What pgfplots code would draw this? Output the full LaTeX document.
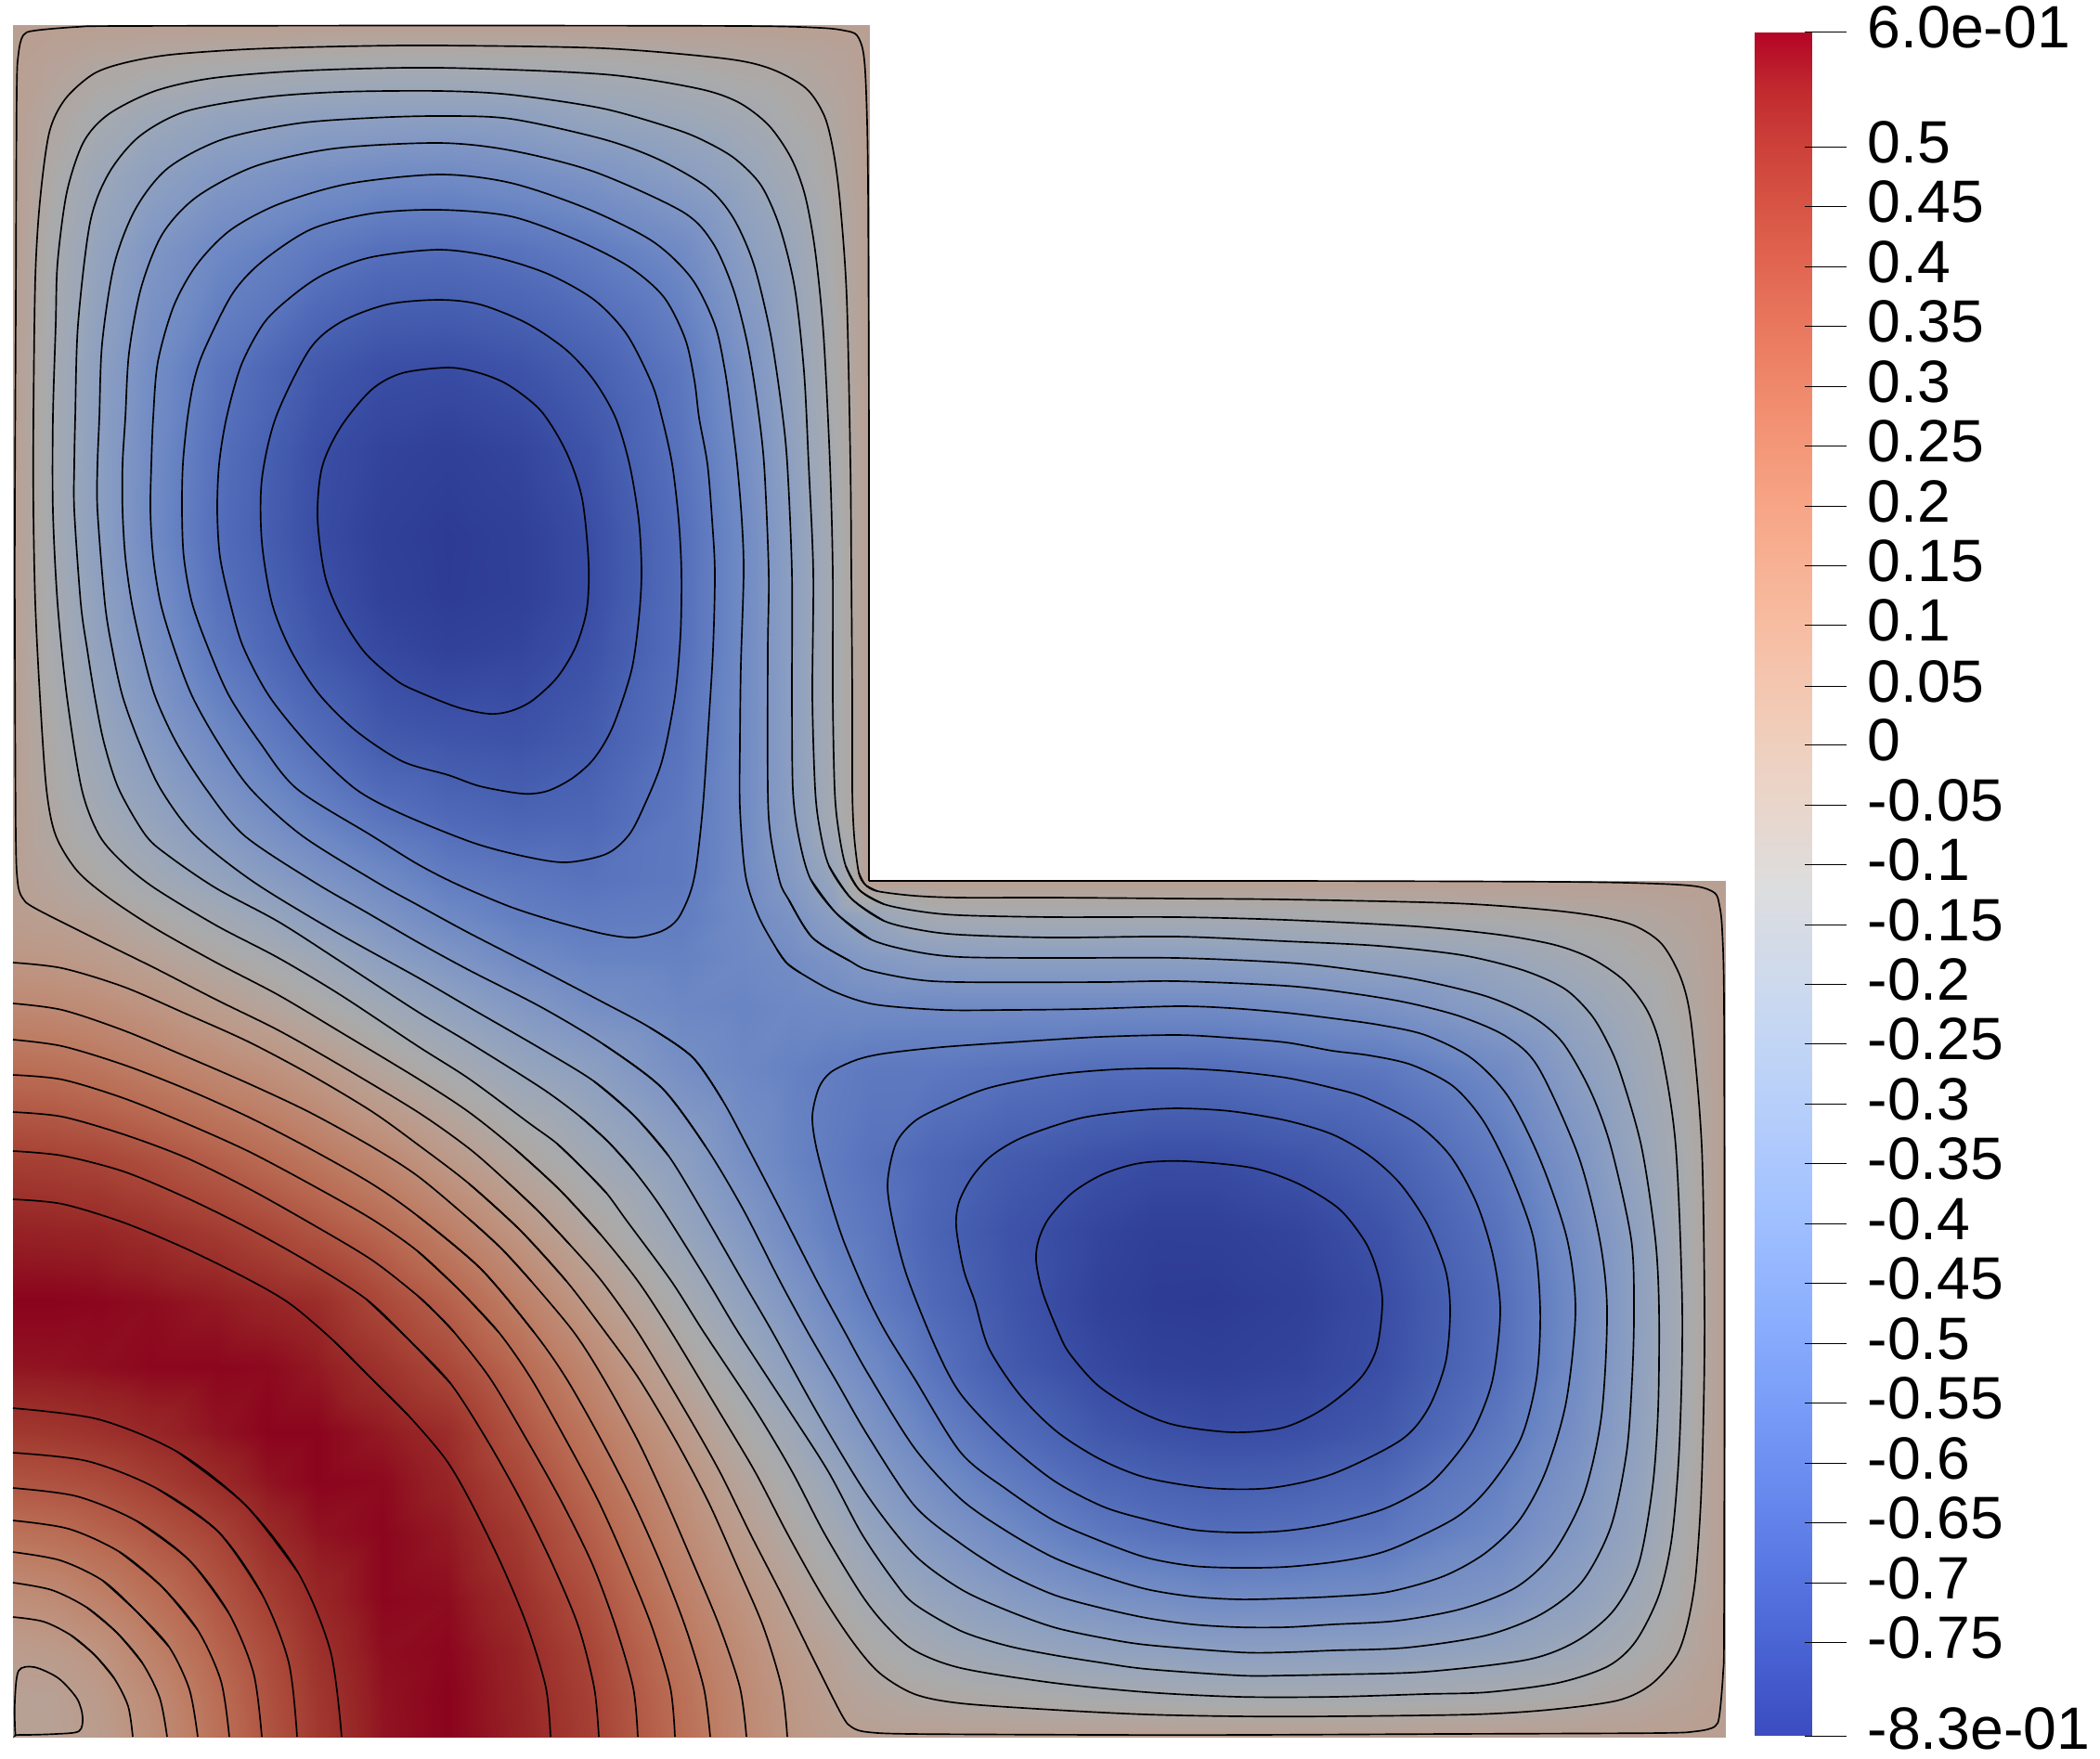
\documentclass[border=0pt]{standalone}
\usepackage{fontspec}
\setmainfont{Liberation Sans}
\usepackage{pgfplots}
\usepackage{pgfplotstable}
\pgfplotsset{compat=1.18}
\pgfplotsset{colormap={cwbar}{rgb255=(59,76,192) rgb255=(68,90,204) rgb255=(77,104,215) rgb255=(87,117,225) rgb255=(98,130,234) rgb255=(108,142,241) rgb255=(119,154,247) rgb255=(130,165,251) rgb255=(141,176,254) rgb255=(152,185,255) rgb255=(163,194,255) rgb255=(174,201,253) rgb255=(184,208,249) rgb255=(194,213,244) rgb255=(204,217,238) rgb255=(213,219,230) rgb255=(221,221,221) rgb255=(229,216,209) rgb255=(236,211,197) rgb255=(241,204,185) rgb255=(245,196,173) rgb255=(247,187,160) rgb255=(247,177,148) rgb255=(247,166,135) rgb255=(244,154,123) rgb255=(241,141,111) rgb255=(236,127,99) rgb255=(229,112,88) rgb255=(222,96,77) rgb255=(213,80,66) rgb255=(203,62,56) rgb255=(192,40,47) rgb255=(180,4,38)}}
\pgfplotsset{colormap={cwlit}{rgb255=(45,59,148) rgb255=(52,69,157) rgb255=(59,80,166) rgb255=(67,90,173) rgb255=(75,100,180) rgb255=(83,109,186) rgb255=(92,119,190) rgb255=(100,127,193) rgb255=(109,136,196) rgb255=(117,142,196) rgb255=(126,149,196) rgb255=(134,155,195) rgb255=(142,160,192) rgb255=(149,164,188) rgb255=(157,167,183) rgb255=(164,169,177) rgb255=(170,170,170) rgb255=(176,166,161) rgb255=(182,162,152) rgb255=(186,157,142) rgb255=(189,151,133) rgb255=(190,144,123) rgb255=(190,136,114) rgb255=(190,128,104) rgb255=(188,119,95) rgb255=(186,109,85) rgb255=(182,98,76) rgb255=(176,86,68) rgb255=(171,74,59) rgb255=(164,62,51) rgb255=(156,48,43) rgb255=(148,31,36) rgb255=(139,3,29)}}
% field, upper-left arm (the lower-right arm is its mirror image)
\pgfplotstableread[row sep=\\]{x y u\\
14 27 0\\57 27 0\\105 27 0\\162 27 0\\234 27 0\\342 27 0\\412 27 0\\483 27 0\\558 27 0\\634 27 0\\734 27 0\\801 27 0\\853 27 0\\897 27 0\\936 27 0\\
14 73 0\\57 73 -0.03\\105 73 -0.07\\162 73 -0.10\\234 73 -0.124\\342 73 -0.15\\412 73 -0.153\\483 73 -0.154\\558 73 -0.146\\634 73 -0.137\\734 73 -0.114\\801 73 -0.086\\853 73 -0.07\\897 73 -0.04\\936 73 0\\
14 125 0\\57 125 -0.07\\105 125 -0.138\\162 125 -0.20\\234 125 -0.255\\342 125 -0.29\\412 125 -0.298\\483 125 -0.303\\558 125 -0.295\\634 125 -0.25\\734 125 -0.209\\801 125 -0.168\\853 125 -0.114\\897 125 -0.068\\936 125 0\\
14 188 0\\57 188 -0.107\\105 188 -0.208\\162 188 -0.287\\234 188 -0.356\\342 188 -0.421\\412 188 -0.447\\483 188 -0.453\\558 188 -0.428\\634 188 -0.393\\734 188 -0.316\\801 188 -0.243\\853 188 -0.166\\897 188 -0.088\\936 188 0\\
14 269 0\\57 269 -0.134\\105 269 -0.254\\162 269 -0.372\\234 269 -0.463\\342 269 -0.55\\412 269 -0.595\\483 269 -0.603\\558 269 -0.579\\634 269 -0.536\\734 269 -0.453\\801 269 -0.315\\853 269 -0.2285\\897 269 -0.111\\936 269 0\\
14 396 0\\57 396 -0.154\\105 396 -0.295\\162 396 -0.435\\234 396 -0.564\\342 396 -0.70\\412 396 -0.745\\483 396 -0.753\\558 396 -0.727\\634 396 -0.672\\734 396 -0.556\\801 396 -0.402\\853 396 -0.26\\897 396 -0.123\\936 396 0\\
14 486 0\\57 486 -0.154\\105 486 -0.302\\162 486 -0.447\\234 486 -0.59\\342 486 -0.745\\412 486 -0.79\\483 486 -0.808\\558 486 -0.785\\634 486 -0.723\\734 486 -0.577\\801 486 -0.43\\853 486 -0.284\\897 486 -0.141\\936 486 0\\
14 577 0\\57 577 -0.154\\105 577 -0.303\\162 577 -0.453\\234 577 -0.603\\342 577 -0.753\\412 577 -0.808\\483 577 -0.8275\\558 577 -0.809\\634 577 -0.753\\734 577 -0.603\\801 577 -0.453\\853 577 -0.303\\897 577 -0.154\\936 577 0\\
14 640 0\\57 640 -0.145\\105 640 -0.283\\162 640 -0.426\\234 640 -0.585\\342 640 -0.734\\412 640 -0.80\\483 640 -0.825\\558 640 -0.81\\634 640 -0.755\\734 640 -0.60\\801 640 -0.453\\853 640 -0.303\\897 640 -0.154\\936 640 0\\
14 700 0\\57 700 -0.138\\105 700 -0.269\\162 700 -0.402\\234 700 -0.552\\342 700 -0.706\\412 700 -0.77\\483 700 -0.80\\558 700 -0.785\\634 700 -0.735\\734 700 -0.60\\801 700 -0.453\\853 700 -0.303\\897 700 -0.154\\936 700 0\\
14 800 0\\57 800 -0.108\\105 800 -0.218\\162 800 -0.332\\234 800 -0.456\\342 800 -0.605\\412 800 -0.69\\483 800 -0.713\\558 800 -0.725\\634 800 -0.688\\734 800 -0.576\\801 800 -0.453\\853 800 -0.303\\897 800 -0.154\\936 800 0\\
14 880 0\\57 880 -0.083\\105 880 -0.167\\162 880 -0.253\\234 880 -0.36\\342 880 -0.50\\412 880 -0.577\\483 880 -0.624\\558 880 -0.65\\634 880 -0.637\\734 880 -0.552\\801 880 -0.453\\853 880 -0.31\\897 880 -0.157\\936 880 0\\
14 949 0\\57 949 -0.044\\105 949 -0.098\\162 949 -0.17\\234 949 -0.255\\342 949 -0.382\\412 949 -0.453\\483 949 -0.525\\558 949 -0.555\\634 949 -0.579\\734 949 -0.55\\801 949 -0.45\\853 949 -0.351\\897 949 -0.244\\936 949 0\\
}\fieldA
% field, lower-left square
\pgfplotstableread[row sep=\\]{x y u\\
14 949 0\\57 949 -0.044\\105 949 -0.098\\162 949 -0.17\\234 949 -0.255\\288 949 -0.32\\342 949 -0.382\\412 949 -0.453\\483 949 -0.525\\558 949 -0.555\\634 949 -0.579\\734 949 -0.55\\801 949 -0.45\\853 949 -0.351\\897 949 -0.244\\936 949 0\\
14 988 0.02\\57 988 -0.004\\105 988 -0.032\\162 988 -0.094\\234 988 -0.171\\288 988 -0.232\\342 988 -0.31\\412 988 -0.388\\483 988 -0.462\\558 988 -0.517\\634 988 -0.54\\734 988 -0.527\\801 988 -0.46\\853 988 -0.393\\897 988 -0.31\\936 988 -0.244\\
14 1032 0.065\\57 1032 0.057\\105 1032 0.03\\162 1032 -0.018\\234 1032 -0.087\\288 1032 -0.141\\342 1032 -0.202\\412 1032 -0.303\\483 1032 -0.378\\558 1032 -0.454\\634 1032 -0.494\\734 1032 -0.503\\801 1032 -0.47\\853 1032 -0.437\\897 1032 -0.393\\936 1032 -0.351\\
14 1084 0.149\\57 1084 0.143\\105 1084 0.122\\162 1084 0.08\\234 1084 0.012\\288 1084 -0.042\\342 1084 -0.104\\412 1084 -0.193\\483 1084 -0.275\\558 1084 -0.357\\634 1084 -0.422\\734 1084 -0.476\\801 1084 -0.49\\853 1084 -0.47\\897 1084 -0.46\\936 1084 -0.45\\
14 1151 0.282\\57 1151 0.273\\105 1151 0.247\\162 1151 0.205\\234 1151 0.146\\288 1151 0.103\\342 1151 0.046\\412 1151 -0.054\\483 1151 -0.144\\558 1151 -0.239\\634 1151 -0.303\\734 1151 -0.424\\801 1151 -0.476\\853 1151 -0.503\\897 1151 -0.527\\936 1151 -0.55\\
14 1251 0.461\\57 1251 0.455\\105 1251 0.44\\162 1251 0.403\\234 1251 0.345\\288 1251 0.295\\342 1251 0.24\\412 1251 0.158\\483 1251 0.052\\558 1251 -0.06\\634 1251 -0.173\\734 1251 -0.303\\801 1251 -0.422\\853 1251 -0.494\\897 1251 -0.54\\936 1251 -0.579\\
14 1327 0.545\\57 1327 0.54\\105 1327 0.535\\162 1327 0.512\\234 1327 0.472\\288 1327 0.431\\342 1327 0.38\\412 1327 0.305\\483 1327 0.203\\558 1327 0.075\\634 1327 -0.06\\734 1327 -0.239\\801 1327 -0.357\\853 1327 -0.454\\897 1327 -0.517\\936 1327 -0.555\\
14 1402 0.595\\57 1402 0.595\\105 1402 0.59\\162 1402 0.58\\234 1402 0.56\\288 1402 0.535\\342 1402 0.515\\412 1402 0.424\\483 1402 0.333\\558 1402 0.203\\634 1402 0.052\\734 1402 -0.144\\801 1402 -0.275\\853 1402 -0.378\\897 1402 -0.462\\936 1402 -0.525\\
14 1473 0.568\\57 1473 0.57\\105 1473 0.578\\162 1473 0.589\\234 1473 0.59\\288 1473 0.585\\342 1473 0.56\\412 1473 0.498\\483 1473 0.424\\558 1473 0.305\\634 1473 0.158\\734 1473 -0.054\\801 1473 -0.193\\853 1473 -0.303\\897 1473 -0.388\\936 1473 -0.453\\
14 1543 0.479\\57 1543 0.486\\105 1543 0.503\\162 1543 0.53\\234 1543 0.57\\288 1543 0.593\\342 1543 0.593\\412 1543 0.56\\483 1543 0.515\\558 1543 0.38\\634 1543 0.24\\734 1543 0.046\\801 1543 -0.104\\853 1543 -0.202\\897 1543 -0.31\\936 1543 -0.382\\
14 1597 0.38\\57 1597 0.39\\105 1597 0.41\\162 1597 0.458\\234 1597 0.52\\288 1597 0.569\\342 1597 0.593\\412 1597 0.585\\483 1597 0.535\\558 1597 0.431\\634 1597 0.295\\734 1597 0.103\\801 1597 -0.042\\853 1597 -0.141\\897 1597 -0.232\\936 1597 -0.32\\
14 1651 0.267\\57 1651 0.283\\105 1651 0.318\\162 1651 0.37\\234 1651 0.445\\288 1651 0.52\\342 1651 0.57\\412 1651 0.59\\483 1651 0.56\\558 1651 0.472\\634 1651 0.345\\734 1651 0.146\\801 1651 0.012\\853 1651 -0.087\\897 1651 -0.171\\936 1651 -0.255\\
14 1723 0.11\\57 1723 0.132\\105 1723 0.186\\162 1723 0.263\\234 1723 0.37\\288 1723 0.458\\342 1723 0.53\\412 1723 0.589\\483 1723 0.58\\558 1723 0.512\\634 1723 0.403\\734 1723 0.205\\801 1723 0.08\\853 1723 -0.018\\897 1723 -0.094\\936 1723 -0.17\\
14 1780 0.018\\57 1780 0.033\\105 1780 0.076\\162 1780 0.186\\234 1780 0.318\\288 1780 0.41\\342 1780 0.503\\412 1780 0.578\\483 1780 0.59\\558 1780 0.535\\634 1780 0.44\\734 1780 0.247\\801 1780 0.122\\853 1780 0.03\\897 1780 -0.032\\936 1780 -0.098\\
14 1828 -0.015\\57 1828 -0.01\\105 1828 0.033\\162 1828 0.132\\234 1828 0.283\\288 1828 0.39\\342 1828 0.486\\412 1828 0.57\\483 1828 0.595\\558 1828 0.54\\634 1828 0.455\\734 1828 0.273\\801 1828 0.143\\853 1828 0.057\\897 1828 -0.004\\936 1828 -0.044\\
14 1871 -0.02\\57 1871 -0.015\\105 1871 0.018\\162 1871 0.11\\234 1871 0.267\\288 1871 0.38\\342 1871 0.479\\412 1871 0.568\\483 1871 0.595\\558 1871 0.545\\634 1871 0.461\\734 1871 0.282\\801 1871 0.149\\853 1871 0.065\\897 1871 0.02\\936 1871 0\\
}\fieldC
\pgfplotstableread[row sep=\\]{x y u\\1890 35 0.595\\1951 35 0.595\\1890 1869 -0.8275\\1951 1869 -0.8275\\}\fieldBar
% contours: loops round the upper-left lobe, then half paths that run a little past the symmetry line
\pgfplotstableread[row sep=\\]{x y\\483 396\\517 402\\548 415\\583 443\\610 487\\627 537\\634 607\\632 657\\620 697\\600 730\\573 755\\550 766\\527 769\\493 762\\450 745\\427 733\\393 703\\367 663\\350 620\\342 557\\347 503\\367 460\\400 420\\433 402\\}\Lzero
\pgfplotstableread[row sep=\\]{x y\\473 323\\517 328\\567 348\\610 377\\640 410\\663 450\\678 500\\688 560\\691 617\\688 667\\680 723\\660 783\\640 817\\617 838\\590 852\\563 855\\517 847\\483 835\\433 820\\383 787\\343 747\\313 700\\293 650\\282 583\\282 517\\297 450\\333 377\\367 347\\417 328\\}\Lone
\pgfplotstableread[row sep=\\]{x y\\473 269\\533 277\\590 295\\640 323\\675 360\\702 413\\713 450\\724 500\\731 560\\734 617\\733 683\\727 750\\713 820\\693 870\\677 900\\653 920\\610 929\\567 923\\510 908\\433 877\\383 850\\333 803\\290 750\\262 697\\248 650\\237 600\\234 550\\236 500\\244 450\\260 393\\285 347\\317 317\\350 295\\400 277\\}\Ltwo
\pgfplotstableread[row sep=\\]{x y\\473 226\\550 233\\620 258\\677 287\\715 320\\738 365\\748 410\\753 450\\762 500\\767 560\\770 617\\768 700\\763 783\\757 870\\750 933\\743 963\\730 990\\713 1003\\683 1010\\650 1006\\600 993\\550 977\\493 953\\450 931\\400 900\\320 850\\280 800\\247 750\\225 700\\207 650\\198 600\\196 550\\197 500\\202 450\\209 410\\220 377\\250 317\\282 282\\335 247\\400 230\\}\Lthree
\pgfplotstableread[row sep=\\]{x y\\778 1185\\747 1140\\700 1107\\650 1080\\583 1045\\505 1005\\450 975\\405 950\\325 900\\270 850\\235 800\\207 750\\188 700\\173 650\\165 600\\162 550\\163 500\\165 450\\170 390\\187 330\\212 285\\248 248\\300 220\\375 198\\473 188\\550 197\\633 225\\703 260\\745 300\\770 350\\781 400\\788 450\\794 500\\799 560\\801 617\\798 717\\797 800\\797 870\\803 943\\817 987\\837 1023\\847 1037\\862 1048\\}\Lfour
\pgfplotstableread[row sep=\\]{x y\\760 1235\\713 1172\\650 1125\\583 1085\\505 1045\\450 1015\\395 983\\338 950\\263 900\\222 850\\190 800\\167 750\\153 700\\142 650\\135 600\\132 550\\132 500\\135 450\\139 380\\152 310\\175 252\\212 212\\275 179\\360 160\\473 154\\550 162\\640 185\\735 228\\768 262\\790 312\\805 370\\815 430\\823 500\\828 617\\827 700\\827 850\\830 900\\840 950\\850 970\\875 1010\\915 1035\\}\Lfive
\pgfplotstableread[row sep=\\]{x y\\720 1245\\683 1202\\640 1165\\583 1130\\505 1085\\450 1053\\360 1003\\273 950\\210 900\\173 850\\150 800\\132 750\\121 700\\113 650\\105 550\\105 500\\107 450\\110 370\\123 285\\146 225\\181 181\\240 150\\320 133\\400 127\\473 125\\550 128\\650 150\\710 172\\762 202\\790 235\\812 285\\830 360\\842 440\\848 500\\853 617\\853 750\\854 850\\860 900\\873 947\\901 984\\938 1012\\}\Lsix
\pgfplotstableread[row sep=\\]{x y\\682 1260\\655 1230\\625 1203\\583 1172\\505 1123\\450 1090\\367 1036\\300 993\\233 957\\183 923\\157 900\\128 850\\112 800\\102 750\\94 700\\87 650\\80 550\\80 500\\81 450\\84 350\\97 240\\117 187\\150 147\\200 120\\283 105\\367 99\\473 98\\550 102\\650 117\\730 140\\765 155\\793 172\\820 200\\840 245\\856 310\\866 400\\871 500\\876 617\\875 750\\878 850\\883 893\\893 933\\917 968\\952 992\\}\Lseven
\pgfplotstableread[row sep=\\]{x y\\653 1285\\627 1258\\600 1232\\570 1210\\505 1162\\450 1127\\367 1072\\300 1032\\233 997\\167 957\\133 930\\107 900\\88 850\\72 750\\62 650\\57 550\\57 450\\60 350\\62 283\\72 207\\90 153\\117 123\\167 98\\230 84\\330 76\\473 73\\650 80\\750 95\\795 110\\828 135\\852 170\\867 210\\878 270\\887 360\\894 500\\897 617\\897 750\\899 850\\903 893\\911 933\\926 959\\952 974\\}\Leight
\pgfplotstableread[row sep=\\]{x y\\647 1330\\603 1282\\555 1238\\505 1198\\450 1162\\367 1112\\300 1072\\233 1037\\167 1000\\117 967\\83 938\\60 900\\50 850\\43 750\\38 650\\36 550\\36 450\\38 300\\43 217\\53 143\\70 107\\100 80\\133 68\\183 59\\267 53\\367 50\\473 49\\650 52\\780 63\\830 74\\868 95\\888 125\\898 165\\905 220\\912 320\\916 500\\917 617\\918 750\\918 850\\920 900\\925 940\\932 953\\945 960\\}\Lnine
\pgfplotstableread[row sep=\\]{x y\\613 1340\\580 1305\\545 1272\\505 1237\\450 1198\\367 1148\\300 1110\\233 1077\\167 1043\\100 1010\\37 978\\24 967\\19 950\\17 900\\16 683\\16 550\\17 333\\18 100\\20 57\\25 38\\37 33\\83 29\\133 28\\473 27.5\\800 28\\883 30\\910 33\\923 38\\930 57\\933 100\\935 200\\936 500\\936 949\\}\Lten
\pgfplotstableread[row sep=\\]{x y\\14 1037\\67 1043\\133 1063\\200 1092\\267 1122\\333 1157\\400 1197\\450 1233\\505 1275\\560 1325\\610 1380\\}\Rone
\pgfplotstableread[row sep=\\]{x y\\14 1081\\67 1088\\133 1110\\200 1138\\267 1167\\333 1198\\400 1235\\450 1267\\505 1313\\540 1345\\572 1380\\}\Rtwo
\pgfplotstableread[row sep=\\]{x y\\14 1120\\67 1127\\133 1147\\200 1173\\267 1203\\333 1237\\400 1275\\450 1310\\518 1367\\575 1435\\}\Rthree
\pgfplotstableread[row sep=\\]{x y\\14 1158\\67 1163\\133 1183\\200 1210\\267 1240\\333 1275\\400 1313\\450 1348\\495 1390\\537 1435\\}\Rfour
\pgfplotstableread[row sep=\\]{x y\\14 1198\\67 1203\\133 1222\\200 1247\\267 1280\\333 1317\\400 1357\\450 1396\\470 1415\\489 1435\\}\Rfive
\pgfplotstableread[row sep=\\]{x y\\14 1240\\67 1245\\133 1262\\200 1290\\267 1323\\333 1360\\395 1400\\441 1444\\485 1490\\}\Rsix
\pgfplotstableread[row sep=\\]{x y\\14 1292\\67 1297\\133 1317\\200 1345\\267 1378\\313 1405\\360 1445\\400 1485\\440 1525\\}\Rseven
\pgfplotstableread[row sep=\\]{x y\\14 1517\\106 1529\\191 1564\\264 1621\\321 1694\\}\Aseven
\pgfplotstableread[row sep=\\]{x y\\14 1565\\94 1574\\168 1603\\235 1650\\282 1717\\}\Asix
\pgfplotstableread[row sep=\\]{x y\\14 1603\\83 1612\\148 1639\\204 1681\\246 1737\\}\Afive
\pgfplotstableread[row sep=\\]{x y\\14 1638\\74 1647\\129 1672\\175 1710\\213 1756\\}\Afour
\pgfplotstableread[row sep=\\]{x y\\14 1672\\65 1681\\111 1703\\148 1737\\182 1774\\}\Athree
\pgfplotstableread[row sep=\\]{x y\\14 1705\\56 1713\\94 1732\\126 1759\\153 1791\\}\Atwo
\pgfplotstableread[row sep=\\]{x y\\14 1742\\47 1747\\77 1762\\102 1783\\123 1808\\}\Aone
\pgfplotstableread[row sep=\\]{x y\\16.5 1867\\16 1833\\20 1800\\37 1796\\63 1808\\83 1830\\89 1850\\85 1865\\60 1868\\20 1869\\}\Acorner
\pgfplotsset{ctr/.style={black,line width=0.5pt,smooth,tension=0.5,no markers},ctrloop/.style={black,line width=0.5pt,smooth cycle,tension=0.5,no markers}}
\newcommand{\ctr}[1]{\addplot[ctr] table[x=x,y=y] {#1};\addplot[ctr] table[x expr=1885-\thisrow{y},y expr=1885-\thisrow{x}] {#1};}
\newcommand{\loopc}[1]{\addplot[ctrloop] table[x=x,y=y] {#1};\addplot[ctrloop] table[x expr=1885-\thisrow{y},y expr=1885-\thisrow{x}] {#1};}
\newcommand{\lab}[2]{\node[anchor=base west,inner sep=0pt,font=\fontsize{19.3}{20}\selectfont] at (axis cs:2011,#1+17) {#2};}
\begin{document}
\begin{tikzpicture}
\path[use as bounding box] (0,0) rectangle (678.6pt,568.2pt);
\begin{axis}[at={(0,0)},anchor=south west,scale only axis,width=678.6pt,height=568.2pt,
  xmin=0,xmax=2262,ymin=0,ymax=1894,y dir=reverse,hide axis,
  point meta min=-0.8275,point meta max=0.595,colormap name=cwlit]
\addplot[surf,shader=interp,colormap name=cwlit,mesh/cols=15,point meta=\thisrow{u}] table[x=x,y=y] {\fieldA};
\addplot[surf,shader=interp,colormap name=cwlit,mesh/cols=15,point meta=\thisrow{u}] table[x expr=1885-\thisrow{y},y expr=1885-\thisrow{x}] {\fieldA};
\addplot[surf,shader=interp,colormap name=cwlit,mesh/cols=16,point meta=\thisrow{u}] table[x=x,y=y] {\fieldC};
\addplot[surf,shader=interp,colormap name=cwbar,mesh/cols=2,point meta=\thisrow{u}] table[x=x,y=y] {\fieldBar};
\loopc{\Lzero}\loopc{\Lone}\loopc{\Ltwo}\loopc{\Lthree}
\ctr{\Lfour}\ctr{\Lfive}\ctr{\Lsix}\ctr{\Lseven}\ctr{\Leight}\ctr{\Lnine}\ctr{\Lten}
\ctr{\Rone}\ctr{\Rtwo}\ctr{\Rthree}\ctr{\Rfour}\ctr{\Rfive}\ctr{\Rsix}\ctr{\Rseven}
\ctr{\Aone}\ctr{\Atwo}\ctr{\Athree}\ctr{\Afour}\ctr{\Afive}\ctr{\Asix}\ctr{\Aseven}
\addplot[ctrloop] table[x=x,y=y] {\Acorner};
\pgfplotsinvokeforeach{34,158,222,287,351,416,480,545,609,673,739,802,867,931,996,1060,1124,1189,1253,1318,1382,1447,1511,1576,1640,1705,1769,1870}{\addplot[black,line width=0.3pt,no markers] coordinates {(1944,#1) (1989,#1)};}
\lab{34}{6.0e-01}\lab{158}{0.5}\lab{222}{0.45}\lab{287}{0.4}\lab{351}{0.35}\lab{416}{0.3}\lab{480}{0.25}\lab{545}{0.2}\lab{609}{0.15}\lab{673}{0.1}\lab{739}{0.05}\lab{802}{0}\lab{867}{-0.05}\lab{931}{-0.1}\lab{996}{-0.15}\lab{1060}{-0.2}\lab{1124}{-0.25}\lab{1189}{-0.3}\lab{1253}{-0.35}\lab{1318}{-0.4}\lab{1382}{-0.45}\lab{1447}{-0.5}\lab{1511}{-0.55}\lab{1576}{-0.6}\lab{1640}{-0.65}\lab{1705}{-0.7}\lab{1769}{-0.75}\lab{1867}{-8.3e-01}
\end{axis}
\end{tikzpicture}
\end{document}
